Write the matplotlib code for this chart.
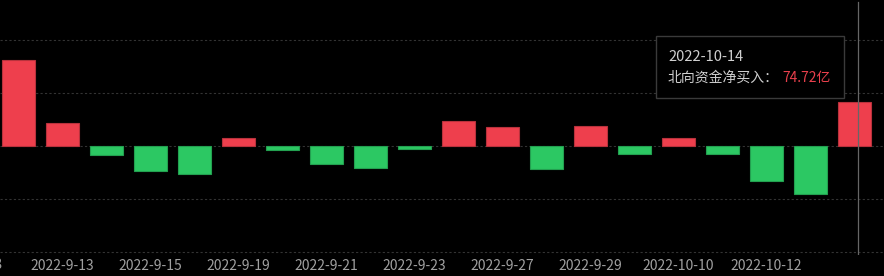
import matplotlib
matplotlib.use("Agg")
import matplotlib.pyplot as plt
from matplotlib.patches import Rectangle

plt.rcParams['font.family'] = ['Noto Sans CJK SC', 'DejaVu Sans']

# data (亿元)
dates = ["2022-9-9", "2022-9-13", "2022-9-14", "2022-9-15", "2022-9-16",
         "2022-9-19", "2022-9-20", "2022-9-21", "2022-9-22", "2022-9-23",
         "2022-9-26", "2022-9-27", "2022-9-28", "2022-9-29", "2022-9-30",
         "2022-10-10", "2022-10-11", "2022-10-12", "2022-10-13", "2022-10-14"]
values = [146, 39, -14.4, -41, -46.4,
          15, -5.6, -30.5, -37, -5,
          43, 33, -39, 35, -12.5,
          13.6, -12.5, -58, -81, 74.72]
prev_label = "2022-9-8"

red = "#ee3f4d"
green = "#2cc863"
bg = "#000000"

fig = plt.figure(figsize=(8.84, 2.76), dpi=100, facecolor=bg)
ax = fig.add_axes([0, 21.5 / 276, 1, 254.5 / 276], facecolor=bg)

x = list(range(len(values)))
colors = [red if v >= 0 else green for v in values]
edges = ["#b8323c" if v >= 0 else "#23a050" for v in values]
ax.bar(x, values, width=0.75, color=colors, edgecolor=edges, linewidth=0.8, zorder=3)

ticks = x[1::2][:-1]
labels = dates[1::2][:-1]
ax.set_xticks(ticks)
ax.set_xticklabels(labels, color="#a0a0a0", fontsize=10)
ax.tick_params(axis="x", length=0, pad=3)
# label of the previous (scrolled-out) day, only its tail is visible
ax.text(-1, -0.013, prev_label, transform=ax.get_xaxis_transform(),
        color="#a0a0a0", fontsize=10, ha="center", va="top", clip_on=False)

ax.set_xlim(-18.5 / 44, (884 - 18.5) / 44)
ax.set_ylim(-183.4, 248.4)
ax.set_yticks([-180, -90, 0, 90, 180])
ax.yaxis.grid(True, color="#333333", linestyle=(0, (2, 2)), linewidth=0.8, zorder=0)
ax.tick_params(axis="y", left=False, labelleft=False)
for s in ax.spines.values():
    s.set_visible(False)

# cursor line
ax.axvline(19.09, ymax=0.992 - 0.0, color="#666666", linewidth=0.9, zorder=4)

# tooltip
fig.patches.append(Rectangle((656 / 884, 1 - 98 / 276), 188 / 884, 62 / 276,
                             transform=fig.transFigure, facecolor=bg,
                             edgecolor="#3a3a3a", linewidth=1, zorder=5))
fig.text(668 / 884, 1 - 57 / 276, "2022-10-14", color="#d0d0d0",
         fontsize=10.5, va="center", zorder=6)
fig.text(668 / 884, 1 - 78 / 276, "北向资金净买入：", color="#d0d0d0",
         fontsize=10, va="center", zorder=6)
fig.text(782 / 884, 1 - 78 / 276, "74.72亿", color="#e8404c",
         fontsize=10, va="center", zorder=6)

fig.savefig("out.png", dpi=100, facecolor=bg)
